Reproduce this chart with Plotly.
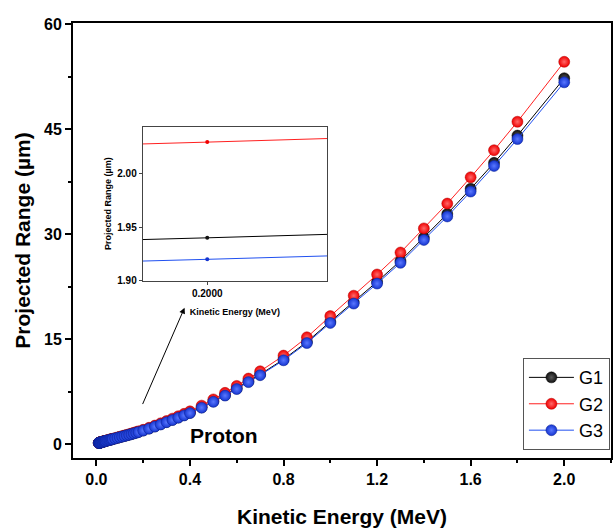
import plotly.graph_objects as go

energy = [0.010, 0.011, 0.012, 0.013, 0.014, 0.015, 0.016, 0.017, 0.018, 0.020,
          0.0225, 0.025, 0.0275, 0.030, 0.0325, 0.035, 0.0375, 0.040, 0.045, 0.050,
          0.055, 0.060, 0.065, 0.070, 0.080, 0.090, 0.100, 0.110, 0.120, 0.130,
          0.140, 0.150, 0.160, 0.170, 0.180, 0.200, 0.225, 0.250, 0.275, 0.300,
          0.325, 0.350, 0.375, 0.400, 0.450, 0.500, 0.550, 0.600, 0.650, 0.700,
          0.800, 0.900, 1.000, 1.100, 1.200, 1.300, 1.400, 1.500, 1.600, 1.700,
          1.800, 2.000]

g1 = [0.150, 0.160, 0.170, 0.180, 0.190, 0.200, 0.210, 0.220, 0.230, 0.250,
      0.275, 0.300, 0.325, 0.350, 0.375, 0.400, 0.420, 0.445, 0.490, 0.535,
      0.580, 0.625, 0.670, 0.715, 0.800, 0.890, 0.980, 1.070, 1.160, 1.250,
      1.340, 1.430, 1.530, 1.630, 1.730, 1.940, 2.220, 2.520, 2.830, 3.150,
      3.470, 3.800, 4.130, 4.470, 5.250, 6.100, 7.000, 7.950, 8.950, 9.950,
      12.10, 14.60, 17.50, 20.30, 23.20, 26.20, 29.50, 32.90, 36.50, 40.20,
      44.10, 52.30]

g2 = [0.157, 0.167, 0.178, 0.188, 0.199, 0.209, 0.219, 0.230, 0.240, 0.261,
      0.287, 0.314, 0.340, 0.366, 0.392, 0.418, 0.439, 0.465, 0.512, 0.559,
      0.606, 0.653, 0.700, 0.747, 0.836, 0.930, 1.024, 1.118, 1.212, 1.306,
      1.400, 1.494, 1.599, 1.703, 1.808, 2.029, 2.320, 2.633, 2.957, 3.292,
      3.626, 3.971, 4.316, 4.671, 5.486, 6.375, 7.315, 8.308, 9.353, 10.40,
      12.64, 15.26, 18.29, 21.21, 24.24, 27.38, 30.83, 34.38, 38.14, 42.01,
      46.08, 54.65]

g3 = [0.148, 0.158, 0.168, 0.178, 0.188, 0.198, 0.208, 0.218, 0.227, 0.247,
      0.272, 0.297, 0.321, 0.346, 0.371, 0.396, 0.415, 0.440, 0.485, 0.529,
      0.574, 0.618, 0.663, 0.707, 0.791, 0.880, 0.969, 1.058, 1.147, 1.236,
      1.325, 1.414, 1.513, 1.612, 1.711, 1.920, 2.196, 2.492, 2.799, 3.115,
      3.432, 3.758, 4.085, 4.421, 5.192, 6.033, 6.923, 7.863, 8.852, 9.84,
      11.97, 14.44, 17.31, 20.08, 22.94, 25.91, 29.18, 32.54, 36.10, 39.76,
      43.61, 51.72]

series_names = ["G1", "G2", "G3"]
series_vals = [g1, g2, g3]
marker_colors = ["#111111", "#f00000", "#1535d0"]
highlight_colors = ["#5a5a5a", "#ff6a6a", "#5a78ff"]
line_colors = ["#000000", "#ff2020", "#2050f0"]
edge_colors = ["#000000", "#b00000", "#0a2090"]

x_ticks = [0.0, 0.4, 0.8, 1.2, 1.6, 2.0]
y_ticks = [0, 15, 30, 45, 60]
inset_x_ticks = [0.2]
inset_x_text = ["0.2000"]
inset_y_ticks = [1.90, 1.95, 2.00]

FONT = "Arial, Liberation Sans, sans-serif"

fig = go.Figure()

for name, vals, mc, hc, lc, ec in zip(series_names, series_vals, marker_colors,
                                       highlight_colors, line_colors, edge_colors):
    fig.add_trace(go.Scatter(
        x=energy, y=vals, name=name, mode="lines+markers",
        line=dict(color=lc, width=1),
        marker=dict(size=11, color=mc, line=dict(color=ec, width=0.5),
                    gradient=dict(type="radial", color=hc)),
        xaxis="x", yaxis="y",
    ))

for name, vals, mc, lc in zip(series_names, series_vals, marker_colors, line_colors):
    fig.add_trace(go.Scatter(
        x=energy, y=vals, name=name, mode="lines+markers", showlegend=False,
        line=dict(color=lc, width=1),
        marker=dict(size=4, color=mc),
        xaxis="x2", yaxis="y2", cliponaxis=True,
    ))

fig.update_layout(
    width=614, height=528,
    margin=dict(l=73, r=1, t=23, b=68),
    paper_bgcolor="white", plot_bgcolor="white",
    font=dict(family=FONT, color="black"),
    showlegend=True,
    legend=dict(
        x=0.998, y=0.018, xanchor="right", yanchor="bottom",
        bordercolor="#555555", borderwidth=1, bgcolor="white",
        font=dict(family=FONT, size=18, color="black"),
        itemwidth=45, tracegroupgap=0,
    ),
    xaxis=dict(
        domain=[0, 1], range=[-0.1, 2.2],
        tickvals=x_ticks, ticktext=[f"{v:.1f}" for v in x_ticks],
        ticks="outside", ticklen=6, tickwidth=2, tickcolor="black",
        minor=dict(ticks="outside", ticklen=3, tickwidth=2, tick0=0, dtick=0.2, tickcolor="black"),
        showline=True, linewidth=2, linecolor="black", mirror=True,
        showgrid=False, zeroline=False,
        tickfont=dict(family=FONT, size=16, weight="bold"),
        title=dict(text="Kinetic Energy (MeV)", font=dict(family=FONT, size=21, weight="bold"), standoff=24),
    ),
    yaxis=dict(
        domain=[0, 1], range=[-2, 60.2],
        tickvals=y_ticks, ticktext=[str(v) for v in y_ticks],
        ticks="outside", ticklen=6, tickwidth=2, tickcolor="black",
        minor=dict(ticks="outside", ticklen=3, tickwidth=2, tick0=0, dtick=7.5, tickcolor="black"),
        showline=True, linewidth=2, linecolor="black", mirror=True,
        showgrid=False, zeroline=False,
        tickfont=dict(family=FONT, size=16, weight="bold"),
        title=dict(text="Projected Range (µm)", font=dict(family=FONT, size=21, weight="bold"), standoff=8),
    ),
    xaxis2=dict(
        domain=[0.1296, 0.4722], anchor="y2", range=[0.199846, 0.200286],
        tickvals=inset_x_ticks, ticktext=inset_x_text,
        ticks="outside", ticklen=3, tickwidth=1, tickcolor="#444444",
        showline=True, linewidth=1, linecolor="#444444", mirror=True,
        showgrid=False, zeroline=False,
        tickfont=dict(family=FONT, size=10, weight="bold"),
        title=dict(text="Kinetic Energy (MeV)", font=dict(family=FONT, size=9, weight="bold"), standoff=10),
    ),
    yaxis2=dict(
        domain=[0.4073, 0.762], anchor="x2", range=[1.90, 2.0435],
        tickvals=inset_y_ticks, ticktext=[f"{v:.2f}" for v in inset_y_ticks],
        ticks="outside", ticklen=3, tickwidth=1, tickcolor="#444444",
        showline=True, linewidth=1, linecolor="#444444", mirror=True,
        showgrid=False, zeroline=False,
        tickfont=dict(family=FONT, size=10, weight="bold"),
        title=dict(text="Projected Range (µm)", font=dict(family=FONT, size=9, weight="bold"), standoff=4),
    ),
    annotations=[
        dict(x=0.547, y=1.2, xref="x", yref="y", text="<b>Proton</b>", showarrow=False,
             font=dict(family=FONT, size=21, color="black")),
        dict(x=0.377, y=19.5, xref="x", yref="y", ax=0.195, ay=5.5, axref="x", ayref="y",
             text="", showarrow=True, arrowhead=2, arrowsize=1.2, arrowwidth=1, arrowcolor="black"),
    ],
)

fig.write_html(
    "out.html",
    config={"displayModeBar": False},
    post_script="document.body.style.margin='0px'; document.body.style.overflow='hidden';",
)
